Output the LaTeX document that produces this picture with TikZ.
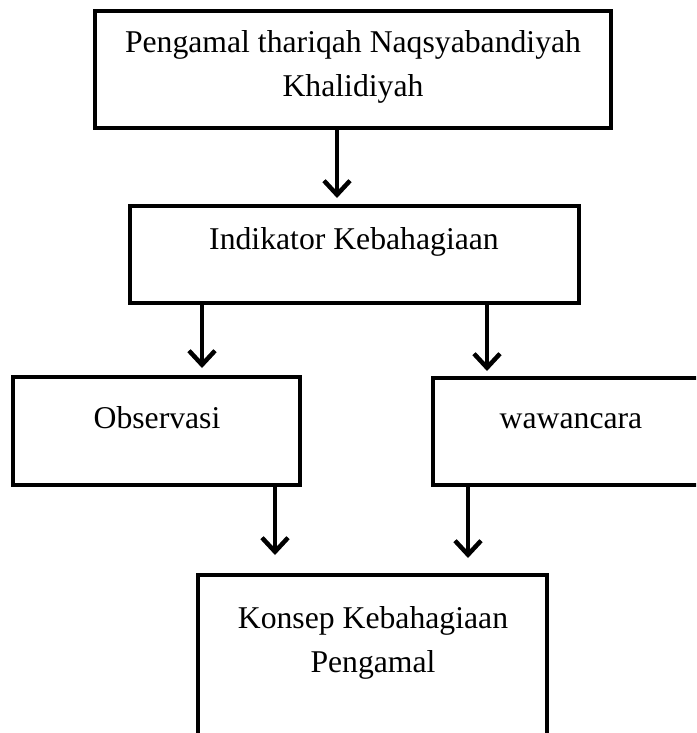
\documentclass[tikz,border=0pt]{standalone}
\usepackage{fontspec}
\setmainfont{Liberation Serif}
\usetikzlibrary{arrows.meta}
\begin{document}
\begin{tikzpicture}[x=1pt,y=-1pt,
  box/.style={draw=black, line width=4pt, inner sep=0pt, rectangle},
  txt/.style={inner sep=0pt, align=center, anchor=base, font=\fontsize{31.7pt}{44pt}\selectfont},
  arr/.style={line width=4.5pt, -{Straight Barb[length=14pt,width=26pt]}}]
\useasboundingbox (0,0) rectangle (696,733);
\clip (0,0) rectangle (696,733);
% boxes
\node[box, minimum width=516pt, minimum height=117pt] (top) at (353,69.5) {};
\node[box, minimum width=449pt, minimum height=97pt] (ind) at (354.5,254.5) {};
\node[box, minimum width=287pt, minimum height=108pt] (obs) at (156.5,431) {};
\node[box, minimum width=327pt, minimum height=107pt] (waw) at (596.5,431.5) {};
\node[box, minimum width=349pt, minimum height=225pt] (kon) at (372.5,687.5) {};
% texts (anchor=base is the baseline of the last line)
\node[txt] (ttop) at (353,97) {Pengamal thariqah Naqsyabandiyah\\Khalidiyah};
\node[txt] (tind) at (354,249) {Indikator Kebahagiaan};
\node[txt] (tobs) at (157,428) {Observasi};
\node[txt] (twaw) at (571,428) {wawancara};
\node[txt] (tkon) at (373,672) {Konsep Kebahagiaan\\Pengamal};
% arrows
\draw[arr, shorten >=6pt] (top.south -| 337,0) -- (ind.north -| 337,0);
\draw[arr, shorten >=7pt] (ind.south -| 202,0) -- (obs.north -| 202,0);
\draw[arr, shorten >=5pt] (ind.south -| 487,0) -- (waw.north -| 487,0);
\draw[arr, shorten >=18pt] (obs.south -| 275,0) -- (kon.north -| 275,0);
\draw[arr, shorten >=15pt] (waw.south -| 468,0) -- (kon.north -| 468,0);
\end{tikzpicture}
\end{document}
